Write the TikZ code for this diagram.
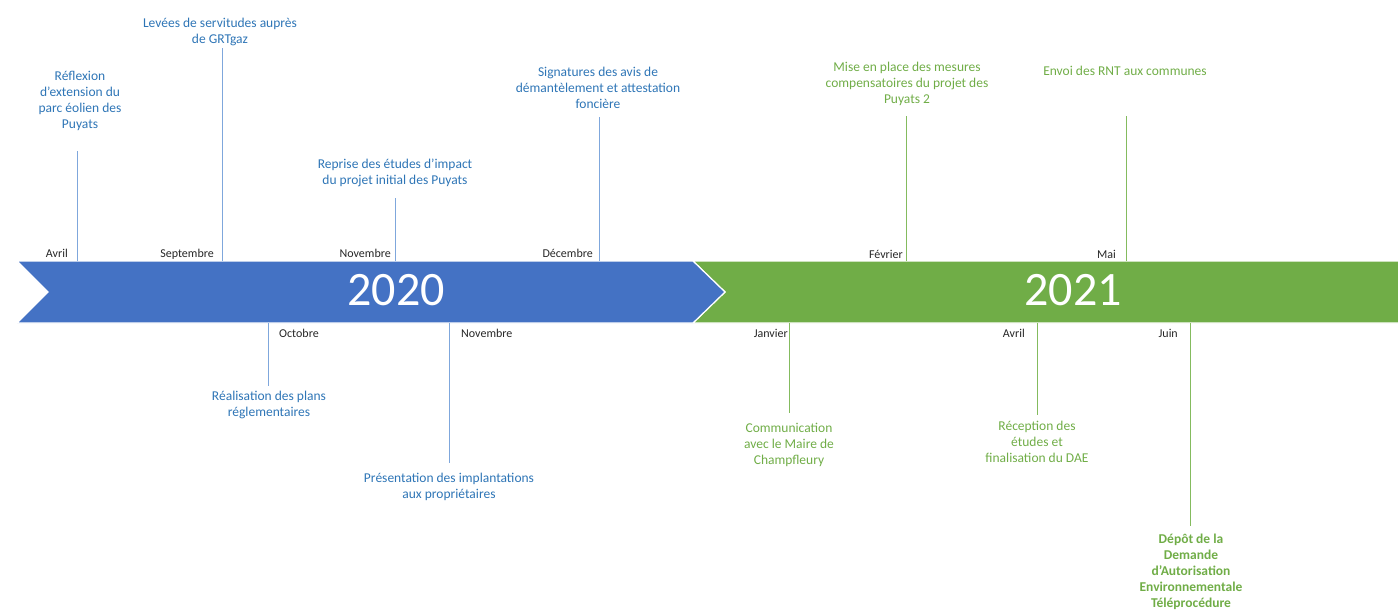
\documentclass[tikz,border=0pt]{standalone}
\usepackage{fontspec}
\setmainfont{Carlito}
\begin{document}
\definecolor{bandblue}{HTML}{4472C4}
\definecolor{bandgreen}{HTML}{70AD47}
\definecolor{txtblue}{HTML}{2E75B6}
\definecolor{txtgreen}{HTML}{70AD47}
\definecolor{tickblue}{HTML}{7FA7DC}
\definecolor{tickgreen}{HTML}{84BB5E}
\definecolor{monthgrey}{HTML}{262626}
\begin{tikzpicture}[x=1pt,y=-1pt,
  evblue/.style={text=txtblue, align=center, inner sep=0, anchor=base,
    font=\fontsize{13.5}{16}\selectfont},
  evgreen/.style={text=txtgreen, align=center, inner sep=0, anchor=base,
    font=\fontsize{13.5}{16}\selectfont},
  month/.style={text=monthgrey, inner sep=0, anchor=base,
    font=\fontsize{12}{14}\selectfont},
  yearlabel/.style={text=white, inner sep=0, anchor=base,
    font=\fontsize{48}{50}\selectfont},
  tickb/.style={draw=tickblue, line width=1pt},
  tickg/.style={draw=tickgreen, line width=1pt}]
\useasboundingbox (0,0) rectangle (1398,611);

% two chevron bands
\fill[bandgreen, draw=white, line width=1.2pt]
  (693,261) -- (1400,261) -- (1400,323) -- (693,323) -- (725,292) -- cycle;
\fill[bandblue, draw=white, line width=1.2pt]
  (17,261) -- (693,261) -- (725,292) -- (693,323) -- (17,323) -- (48,292) -- cycle;

\node[yearlabel] (y2020) at (396,305) {2020};
\node[yearlabel] (y2021) at (1073,305) {2021};

% tick end points
\coordinate (aA) at (77,261);   \coordinate (aAe) at (77,151);
\coordinate (aS) at (222,261);  \coordinate (aSe) at (222,48);
\coordinate (aN) at (395,261);  \coordinate (aNe) at (395,198);
\coordinate (aD) at (599,261);  \coordinate (aDe) at (599,117);
\coordinate (aF) at (906,261);  \coordinate (aFe) at (906,116);
\coordinate (aM) at (1126,261); \coordinate (aMe) at (1126,116);
\coordinate (bO) at (268,323);  \coordinate (bOe) at (268,386);
\coordinate (bN) at (449,323);  \coordinate (bNe) at (449,463);
\coordinate (bJ) at (789,323);  \coordinate (bJe) at (789,413);
\coordinate (bA) at (1037,323); \coordinate (bAe) at (1037,415);
\coordinate (bU) at (1190,323); \coordinate (bUe) at (1190,526);

\draw[tickb] (aA) -- (aAe);
\draw[tickb] (aS) -- (aSe);
\draw[tickb] (aN) -- (aNe);
\draw[tickb] (aD) -- (aDe);
\draw[tickg] (aF) -- (aFe);
\draw[tickg] (aM) -- (aMe);
\draw[tickb] (bO) -- (bOe);
\draw[tickb] (bN) -- (bNe);
\draw[tickg] (bJ) -- (bJe);
\draw[tickg] (bA) -- (bAe);
\draw[tickg] (bU) -- (bUe);

% month labels
\node[month, anchor=base east] (mAvr) at (68,257) {Avril};
\node[month, anchor=base east] (mSep) at (214,257) {Septembre};
\node[month, anchor=base east] (mNov) at (391,257) {Novembre};
\node[month, anchor=base east] (mDec) at (593,257) {Décembre};
\node[month, anchor=base east] (mFev) at (903,258) {Février};
\node[month, anchor=base east] (mMai) at (1116,258) {Mai};
\node[month, anchor=base west] (mOct) at (279,337) {Octobre};
\node[month, anchor=base west] (mNovb) at (461,337) {Novembre};
\node[month, anchor=base east] (mJan) at (788,337) {Janvier};
\node[month, anchor=base east] (mAvrb) at (1025,337) {Avril};
\node[month, anchor=base east] (mJui) at (1178,337) {Juin};

% events above the band (y = baseline of the last line)
\node[evblue] (eRef) at (80,128) {Réflexion\\d’extension du\\parc éolien des\\Puyats};
\node[evblue] (eLev) at (220,43) {Levées de servitudes auprès\\de GRTgaz};
\node[evblue] (eRep) at (395,184) {Reprise des études d’impact\\du projet initial des Puyats};
\node[evblue] (eSig) at (598,108) {Signatures des avis de\\démantèlement et attestation\\foncière};
\node[evgreen] (eMis) at (907,103) {Mise en place des mesures\\compensatoires du projet des\\Puyats 2};
\node[evgreen] (eEnv) at (1125,75) {Envoi des RNT aux communes};

% events below the band
\node[evblue] (eRea) at (269,416) {Réalisation des plans\\réglementaires};
\node[evblue] (ePre) at (449,498) {Présentation des implantations\\aux propriétaires};
\node[evgreen] (eCom) at (789,464) {Communication\\avec le Maire de\\Champfleury};
\node[evgreen] (eRec) at (1037,462) {Réception des\\études et\\finalisation du DAE};
\node[evgreen, font=\fontsize{13.5}{16}\selectfont\bfseries] (eDep) at (1191,607)
  {Dépôt de la\\Demande\\d’Autorisation\\Environnementale\\Téléprocédure};
\end{tikzpicture}
\end{document}
